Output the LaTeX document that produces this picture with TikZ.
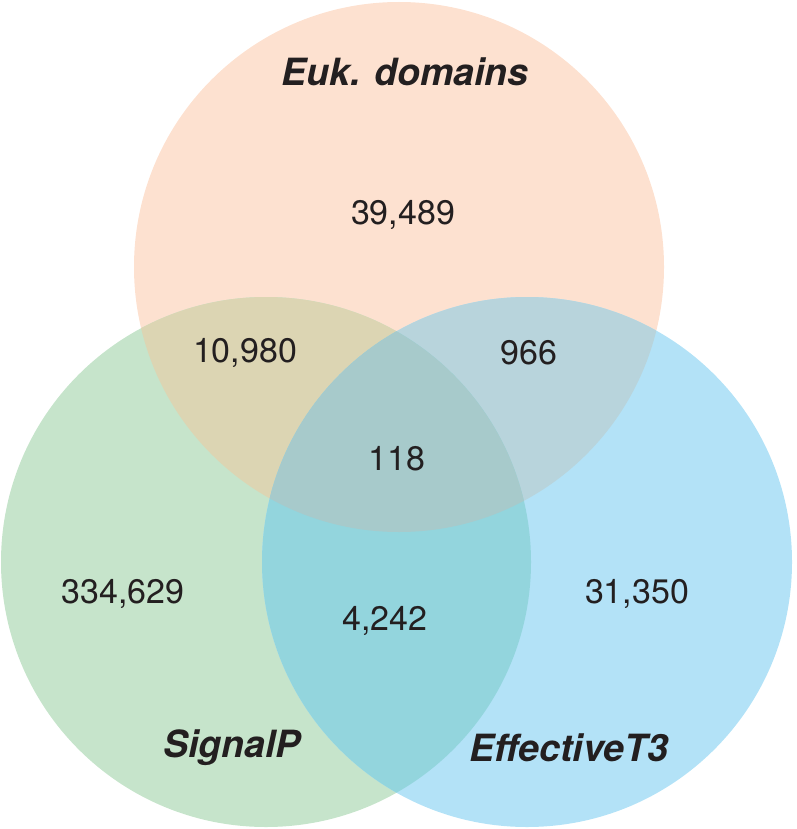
\documentclass[tikz,border=0pt]{standalone}
\usepackage{fontspec}
\setmainfont{TeX Gyre Heros}
\begin{document}
\begin{tikzpicture}[x=1pt,y=-1pt,
  lbl/.style={font=\fontsize{37.5}{42}\selectfont\bfseries\itshape, text=txt, inner sep=0pt},
  num/.style={font=\fontsize{34}{38}\selectfont, text=txt, inner sep=0pt}]
\definecolor{txt}{HTML}{231F20}
\definecolor{cA}{HTML}{FDE1D0}
\definecolor{cB}{HTML}{C6E4CB}
\definecolor{cC}{HTML}{B3E2F7}
\definecolor{cAB}{HTML}{DCD5B3}
\definecolor{cAC}{HTML}{B8D4DC}
\definecolor{cBC}{HTML}{93D5DD}
\definecolor{cABC}{HTML}{A7CACB}
\useasboundingbox (0,0) rectangle (796,829);
\coordinate (ca) at (399,267);
\coordinate (cb) at (266,562);
\coordinate (cc) at (527,562);
\def\R{265}
\fill[cA] (ca) circle (\R);
\fill[cB] (cb) circle (\R);
\fill[cC] (cc) circle (\R);
\begin{scope}\clip (ca) circle (\R); \fill[cAB] (cb) circle (\R);\end{scope}
\begin{scope}\clip (ca) circle (\R); \fill[cAC] (cc) circle (\R);\end{scope}
\begin{scope}\clip (cb) circle (\R); \fill[cBC] (cc) circle (\R);\end{scope}
\begin{scope}\clip (ca) circle (\R); \clip (cb) circle (\R); \fill[cABC] (cc) circle (\R);\end{scope}
\node[lbl] (euk) at (405,72) {Euk. domains};
\node[lbl] (sig) at (232,748) {SignalP};
\node[lbl] (eff) at (569,748) {EffectiveT3};
\node[num] (nA) at (403,215) {39,489};
\node[num] (nAB) at (245,353) {10,980};
\node[num] (nAC) at (529,353) {966};
\node[num] (nABC) at (397,459) {118};
\node[num] (nB) at (123,594) {334,629};
\node[num] (nBC) at (385,621) {4,242};
\node[num] (nC) at (637,594) {31,350};
\end{tikzpicture}
\end{document}
